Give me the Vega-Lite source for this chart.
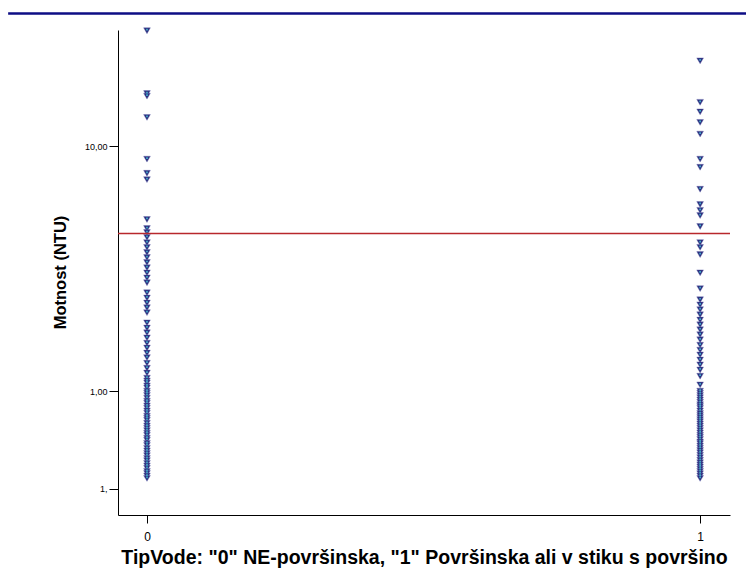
{
  "$schema": "https://vega.github.io/schema/vega-lite/v6.json",
  "width": 612,
  "height": 485,
  "autosize": {"type": "none"},
  "padding": {"left": 118, "top": 30, "right": 16, "bottom": 55},
  "background": "white",
  "config": {
    "view": {"stroke": null},
    "font": "Liberation Sans",
    "axis": {"grid": false, "domainColor": "black", "tickColor": "black", "domainWidth": 1, "tickWidth": 1, "labelColor": "black", "titleColor": "black", "labelFont": "Liberation Sans", "titleFont": "Liberation Sans"}
  },
  "datasets": {
    "pts": [
      {"g": 0, "v": 29.6}, {"g": 0, "v": 16.4}, {"g": 0, "v": 16.0}, {"g": 0, "v": 13.1}, {"g": 0, "v": 8.85}, {"g": 0, "v": 7.75}, {"g": 0, "v": 7.3}, {"g": 0, "v": 5.02},
      {"g": 0, "v": 4.61}, {"g": 0, "v": 4.44}, {"g": 0, "v": 4.24}, {"g": 0, "v": 4.04}, {"g": 0, "v": 3.86}, {"g": 0, "v": 3.68}, {"g": 0, "v": 3.51}, {"g": 0, "v": 3.35},
      {"g": 0, "v": 3.19}, {"g": 0, "v": 3.04}, {"g": 0, "v": 2.90}, {"g": 0, "v": 2.77}, {"g": 0, "v": 2.52}, {"g": 0, "v": 2.40}, {"g": 0, "v": 2.29}, {"g": 0, "v": 2.19},
      {"g": 0, "v": 2.09}, {"g": 0, "v": 1.90}, {"g": 0, "v": 1.81}, {"g": 0, "v": 1.73}, {"g": 0, "v": 1.65}, {"g": 0, "v": 1.57}, {"g": 0, "v": 1.50}, {"g": 0, "v": 1.43},
      {"g": 0, "v": 1.37}, {"g": 0, "v": 1.30}, {"g": 0, "v": 1.24}, {"g": 0, "v": 1.185}, {"g": 0, "v": 1.13}, {"g": 0, "v": 1.10}, {"g": 0, "v": 1.08}, {"g": 0, "v": 1.05},
      {"g": 0, "v": 1.03}, {"g": 0, "v": 1.0}, {"g": 0, "v": 0.981}, {"g": 0, "v": 0.96}, {"g": 0, "v": 0.936}, {"g": 0, "v": 0.91}, {"g": 0, "v": 0.893}, {"g": 0, "v": 0.87},
      {"g": 0, "v": 0.852}, {"g": 0, "v": 0.83}, {"g": 0, "v": 0.813}, {"g": 0, "v": 0.79}, {"g": 0, "v": 0.775}, {"g": 0, "v": 0.76}, {"g": 0, "v": 0.739}, {"g": 0, "v": 0.72},
      {"g": 0, "v": 0.705}, {"g": 0, "v": 0.69}, {"g": 0, "v": 0.673}, {"g": 0, "v": 0.66}, {"g": 0, "v": 0.642}, {"g": 0, "v": 0.63}, {"g": 0, "v": 0.612}, {"g": 0, "v": 0.60},
      {"g": 0, "v": 0.584}, {"g": 0, "v": 0.57}, {"g": 0, "v": 0.557}, {"g": 0, "v": 0.545}, {"g": 0, "v": 0.531}, {"g": 0, "v": 0.52}, {"g": 0, "v": 0.507}, {"g": 0, "v": 0.495},
      {"g": 0, "v": 0.484}, {"g": 0, "v": 0.47}, {"g": 0, "v": 0.461}, {"g": 0, "v": 0.45}, {"g": 0, "v": 0.44},
      {"g": 1, "v": 22.3}, {"g": 1, "v": 15.1}, {"g": 1, "v": 13.8}, {"g": 1, "v": 12.5}, {"g": 1, "v": 11.2}, {"g": 1, "v": 8.85}, {"g": 1, "v": 8.2}, {"g": 1, "v": 6.67},
      {"g": 1, "v": 5.78}, {"g": 1, "v": 5.47}, {"g": 1, "v": 5.21}, {"g": 1, "v": 4.70}, {"g": 1, "v": 4.04}, {"g": 1, "v": 3.86}, {"g": 1, "v": 3.61}, {"g": 1, "v": 3.04},
      {"g": 1, "v": 2.62}, {"g": 1, "v": 2.36}, {"g": 1, "v": 2.25}, {"g": 1, "v": 2.15}, {"g": 1, "v": 2.05}, {"g": 1, "v": 1.95}, {"g": 1, "v": 1.865}, {"g": 1, "v": 1.78},
      {"g": 1, "v": 1.70}, {"g": 1, "v": 1.62}, {"g": 1, "v": 1.54}, {"g": 1, "v": 1.47}, {"g": 1, "v": 1.405}, {"g": 1, "v": 1.34}, {"g": 1, "v": 1.28}, {"g": 1, "v": 1.22},
      {"g": 1, "v": 1.15}, {"g": 1, "v": 1.06}, {"g": 1, "v": 1.0}, {"g": 1, "v": 0.98}, {"g": 1, "v": 0.96}, {"g": 1, "v": 0.94}, {"g": 1, "v": 0.92}, {"g": 1, "v": 0.90},
      {"g": 1, "v": 0.88}, {"g": 1, "v": 0.865}, {"g": 1, "v": 0.85}, {"g": 1, "v": 0.83}, {"g": 1, "v": 0.81}, {"g": 1, "v": 0.795}, {"g": 1, "v": 0.78}, {"g": 1, "v": 0.765},
      {"g": 1, "v": 0.75}, {"g": 1, "v": 0.735}, {"g": 1, "v": 0.72}, {"g": 1, "v": 0.705}, {"g": 1, "v": 0.69}, {"g": 1, "v": 0.675}, {"g": 1, "v": 0.66}, {"g": 1, "v": 0.648},
      {"g": 1, "v": 0.635}, {"g": 1, "v": 0.62}, {"g": 1, "v": 0.61}, {"g": 1, "v": 0.597}, {"g": 1, "v": 0.585}, {"g": 1, "v": 0.572}, {"g": 1, "v": 0.56}, {"g": 1, "v": 0.547},
      {"g": 1, "v": 0.535}, {"g": 1, "v": 0.522}, {"g": 1, "v": 0.51}, {"g": 1, "v": 0.50}, {"g": 1, "v": 0.49}, {"g": 1, "v": 0.48}, {"g": 1, "v": 0.47}, {"g": 1, "v": 0.46},
      {"g": 1, "v": 0.45}, {"g": 1, "v": 0.44}
    ],
    "ref": [{"v": 4.4, "x0": -0.0524, "x1": 1.054}],
    "topline": [{"v": 34.8, "x0": -0.251, "x1": 1.083}]
  },
  "layer": [
    {
      "data": {"name": "topline"},
      "mark": {"type": "rule", "color": "#0d0d85", "strokeWidth": 2.5, "clip": false},
      "encoding": {
        "x": {"field": "x0", "type": "quantitative", "scale": {"domain": [-0.0524, 1.054], "nice": false, "zero": false}},
        "x2": {"field": "x1"},
        "y": {"field": "v", "type": "quantitative", "scale": {"type": "log", "domain": [0.312, 29.8], "nice": false}}
      }
    },
    {
      "data": {"name": "pts"},
      "mark": {"type": "point", "shape": "triangle-down", "filled": true, "size": 46, "color": "#2b2c7c", "opacity": 1, "stroke": "#6b6fb0", "strokeWidth": 0.4, "clip": false},
      "encoding": {
        "x": {
          "field": "g", "type": "quantitative",
          "scale": {"domain": [-0.0524, 1.054], "nice": false, "zero": false},
          "axis": {"values": [0, 1], "format": "d", "tickSize": 8, "labelPadding": 8, "labelFontSize": 12, "title": "TipVode: \"0\" NE-površinska, \"1\" Površinska ali v stiku s površino", "titleFontSize": 19.5, "titleFontWeight": "bold", "titleBaseline": "top", "titleY": 33}
        },
        "y": {
          "field": "v", "type": "quantitative",
          "scale": {"type": "log", "domain": [0.312, 29.8], "nice": false},
          "axis": {"values": [0.4, 1, 10], "labelExpr": "datum.value == 10 ? '10,00' : (datum.value == 1 ? '1,00' : '1,')", "tickSize": 9, "labelPadding": 2, "labelFontSize": 9, "title": "Motnost (NTU)", "titleFontSize": 16.5, "titleFontWeight": "bold", "titleX": -58, "titleY": 242, "titleBaseline": "middle", "titleAngle": -90}
        }
      }
    },
    {
      "data": {"name": "pts"},
      "mark": {"type": "point", "shape": "square", "filled": true, "size": 3, "color": "#3fa8c8", "opacity": 1, "yOffset": -1, "clip": false},
      "encoding": {
        "x": {"field": "g", "type": "quantitative"},
        "y": {"field": "v", "type": "quantitative"}
      }
    },
    {
      "data": {"name": "ref"},
      "mark": {"type": "rule", "color": "#b8282c", "strokeWidth": 1.3},
      "encoding": {
        "x": {"field": "x0", "type": "quantitative"},
        "x2": {"field": "x1"},
        "y": {"field": "v", "type": "quantitative"}
      }
    }
  ]
}
